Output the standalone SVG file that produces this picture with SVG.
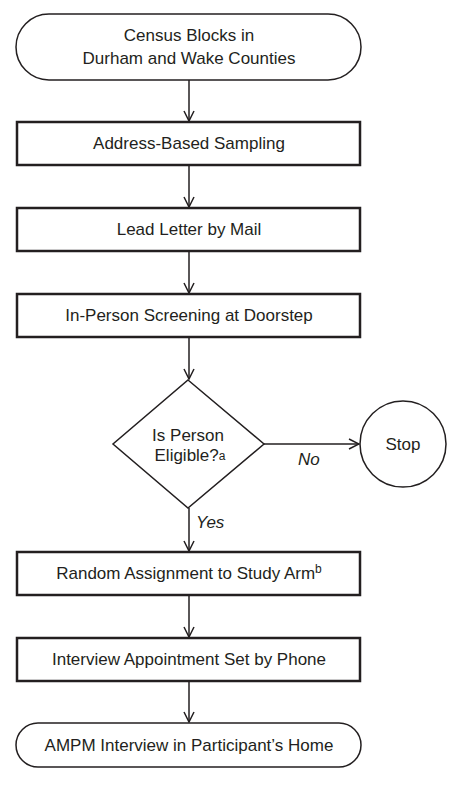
<svg xmlns="http://www.w3.org/2000/svg" width="457" height="787" viewBox="0 0 457 787">
<defs>
<marker id="arr" viewBox="0 0 12 12" refX="11" refY="6" markerWidth="12" markerHeight="12" markerUnits="userSpaceOnUse" orient="auto">
<path d="M1,1 L11,6 L1,11" fill="none" stroke="#231f20" stroke-width="1.5"/>
</marker>
<style>
.box{fill:#fff;stroke:#231f20;stroke-width:2.5}
.term{fill:#fff;stroke:#231f20;stroke-width:1.5}
.t{font-family:"Liberation Sans",Arial,sans-serif;font-size:17px;fill:#231f20;text-anchor:middle}
.lbl{font-family:"Liberation Sans",Arial,sans-serif;font-size:17px;fill:#231f20;font-style:italic}
.sup{font-size:12px}
.c{fill:none;stroke:#231f20;stroke-width:1.5;marker-end:url(#arr)}
</style>
</defs>
<g id="connectors">
<line class="c" x1="189" y1="80" x2="189" y2="121"/>
<line class="c" x1="189" y1="165" x2="189" y2="207"/>
<line class="c" x1="189" y1="251" x2="189" y2="293"/>
<line class="c" x1="189" y1="337" x2="189" y2="379"/>
<line class="c" x1="264" y1="444" x2="359" y2="444"/>
<line class="c" x1="189" y1="508" x2="189" y2="551"/>
<line class="c" x1="189" y1="595" x2="189" y2="637"/>
<line class="c" x1="189" y1="681" x2="189" y2="722"/>
<text class="lbl" x="298" y="465">No</text>
<text class="lbl" x="196" y="528">Yes</text>
</g>
<g id="n1">
<rect class="term" x="16" y="14" width="345" height="66" rx="33"/>
<text class="t" x="189" y="41">Census Blocks in</text>
<text class="t" x="189" y="64">Durham and Wake Counties</text>
</g>
<g id="n2">
<rect class="box" x="17" y="122" width="343" height="43"/>
<text class="t" x="189" y="149">Address-Based Sampling</text>
</g>
<g id="n3">
<rect class="box" x="17" y="208" width="343" height="43"/>
<text class="t" x="189" y="235">Lead Letter by Mail</text>
</g>
<g id="n4">
<rect class="box" x="17" y="294" width="343" height="43"/>
<text class="t" x="189" y="321">In-Person Screening at Doorstep</text>
</g>
<g id="n5">
<polygon class="term" points="188,380 264,444 188,508 113,444"/>
<text class="t" x="188" y="441">Is Person</text>
<text class="t" x="190" y="461">Eligible?<tspan class="sup" dy="-1">a</tspan></text>
</g>
<g id="n6">
<circle class="term" cx="403" cy="444" r="43"/>
<text class="t" x="403" y="450">Stop</text>
</g>
<g id="n7">
<rect class="box" x="17" y="552" width="343" height="43"/>
<text class="t" x="189" y="579">Random Assignment to Study Arm<tspan class="sup" dy="-6">b</tspan></text>
</g>
<g id="n8">
<rect class="box" x="17" y="638" width="343" height="43"/>
<text class="t" x="189" y="665">Interview Appointment Set by Phone</text>
</g>
<g id="n9">
<rect class="term" x="16" y="723" width="345" height="44" rx="22"/>
<text class="t" x="189" y="751">AMPM Interview in Participant’s Home</text>
</g>
</svg>
